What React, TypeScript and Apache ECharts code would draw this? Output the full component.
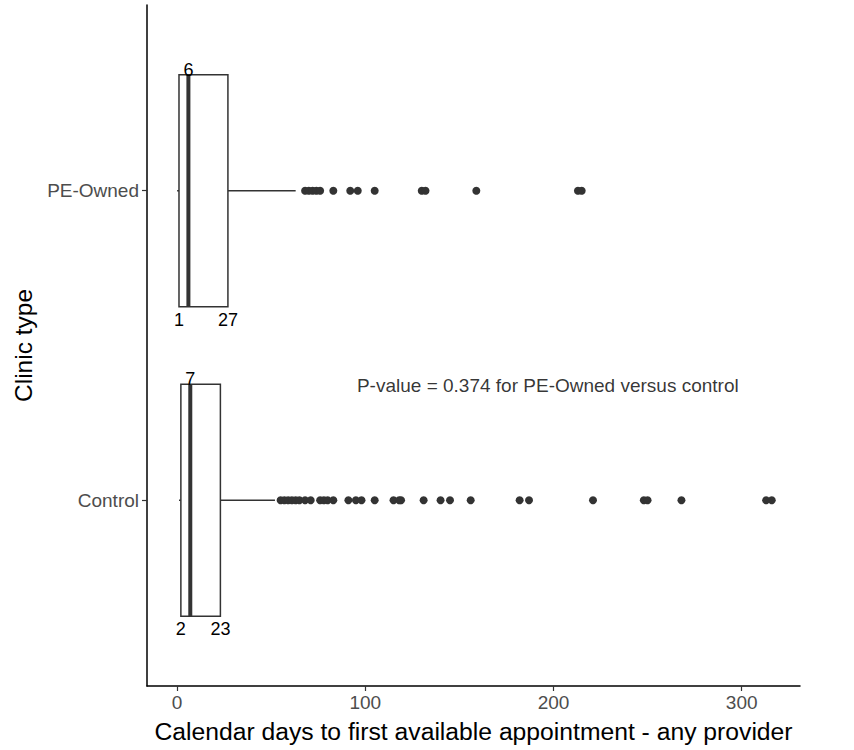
import React, { useEffect, useRef } from "react";
import * as echarts from "echarts";

const categories = ["Control", "PE-Owned"];
const whiskerLow = [1, 0];
const q1 = [2, 1];
const median = [7, 6];
const q3 = [23, 27];
const whiskerHigh = [52, 63];
const controlOutliers = [55, 57, 59, 61, 63, 65, 68, 71, 76, 78, 80, 83, 91, 95, 98, 105, 115, 118, 119, 131, 140, 145, 156, 182, 187, 221, 248, 250, 268, 313, 316];
const peOwnedOutliers = [68, 70, 72, 74, 76, 83, 92, 96, 105, 130, 132, 159, 213, 215];
const xTicks = [0, 100, 200, 300];
const annotationText = "P-value = 0.374 for PE-Owned versus control";
const annotationPos = [197, 1.37];

const FONT = "Liberation Sans, Arial, sans-serif";

export default function App() {
  const ref = useRef<HTMLDivElement>(null);
  useEffect(() => {
    const chart = echarts.init(ref.current!, null, { renderer: "svg" });
    const boxData = categories.map((_, i) => [i + 1, whiskerLow[i], q1[i], median[i], q3[i], whiskerHigh[i]]);
    const outlierData: number[][] = [];
    controlOutliers.forEach((v) => outlierData.push([v, 1]));
    peOwnedOutliers.forEach((v) => outlierData.push([v, 2]));

    chart.setOption({
      animation: false,
      grid: { left: 147, right: 54, top: 5, bottom: 64, containLabel: false, outerBoundsMode: "none" },
      xAxis: {
        type: "value",
        min: -16,
        max: 331,
        name: "Calendar days to first available appointment - any provider",
        nameLocation: "middle",
        nameGap: 33,
        nameTextStyle: { fontSize: 24.7, color: "#000", fontFamily: FONT },
        axisLine: { show: true, onZero: false, lineStyle: { color: "#000", width: 1.5 } },
        axisTick: { show: true, length: 5, lineStyle: { color: "#333", width: 1.2 }, customValues: xTicks },
        axisLabel: { color: "#4d4d4d", fontSize: 19, fontFamily: FONT, margin: 7, customValues: xTicks },
        splitLine: { show: false },
      },
      yAxis: {
        type: "value",
        min: 0.4,
        max: 2.6,
        name: "Clinic type",
        nameLocation: "middle",
        nameGap: 106,
        nameRotate: 90,
        nameTextStyle: { fontSize: 24.5, color: "#000", fontFamily: FONT },
        axisLine: { show: true, onZero: false, lineStyle: { color: "#000", width: 1.5 } },
        axisTick: { show: true, length: 5, lineStyle: { color: "#333", width: 1.2 }, customValues: [1, 2] },
        axisLabel: {
          color: "#4d4d4d",
          fontSize: 19,
          fontFamily: FONT,
          margin: 8,
          customValues: [1, 2],
          formatter: (v: number) => categories[Math.round(v) - 1] ?? "",
        },
        splitLine: { show: false },
      },
      series: [
        {
          type: "custom",
          data: boxData,
          encode: { x: [1, 2, 3, 4, 5], y: 0 },
          z: 2,
          renderItem: (params: any, api: any) => {
            const y = api.value(0);
            const lo = api.value(1);
            const a = api.value(2);
            const m = api.value(3);
            const b = api.value(4);
            const hi = api.value(5);
            const px = (v: number) => api.coord([v, y])[0];
            const cy = api.coord([0, y])[1];
            const halfH = Math.abs(api.size([0, 0.75])[1]) / 2;
            const stroke = { stroke: "#333", lineWidth: 1.5, fill: "none" };
            const txt = (t: string, x: number, yy: number) => ({
              type: "text",
              x,
              y: yy,
              style: { text: t, align: "center", verticalAlign: "middle", fontSize: 18, fontFamily: FONT, fill: "#000" },
            });
            return {
              type: "group",
              children: [
                { type: "line", shape: { x1: px(lo), y1: cy, x2: px(a), y2: cy }, style: stroke },
                { type: "line", shape: { x1: px(b), y1: cy, x2: px(hi), y2: cy }, style: stroke },
                {
                  type: "rect",
                  shape: { x: px(a), y: cy - halfH, width: px(b) - px(a), height: 2 * halfH },
                  style: { fill: "#fff", stroke: "#333", lineWidth: 1.5 },
                },
                { type: "line", shape: { x1: px(m), y1: cy - halfH, x2: px(m), y2: cy + halfH }, style: { stroke: "#333", lineWidth: 4 } },
                txt(String(m), px(m), cy - halfH - 5),
                txt(String(a), px(a), cy + halfH + 13),
                txt(String(b), px(b), cy + halfH + 13),
              ],
            };
          },
        },
        {
          type: "scatter",
          data: outlierData,
          symbol: "circle",
          symbolSize: 8,
          itemStyle: { color: "#333", opacity: 1 },
          z: 3,
        },
        {
          type: "scatter",
          data: [annotationPos],
          symbolSize: 0,
          silent: true,
          label: {
            show: true,
            position: "inside",
            formatter: () => annotationText,
            fontSize: 19,
            fontFamily: FONT,
            color: "#000",
          },
        },
      ],
    });
    return () => chart.dispose();
  }, []);
  return <div ref={ref} style={{ position: "absolute", left: 0, top: 0, width: 854, height: 750 }} />;
}
